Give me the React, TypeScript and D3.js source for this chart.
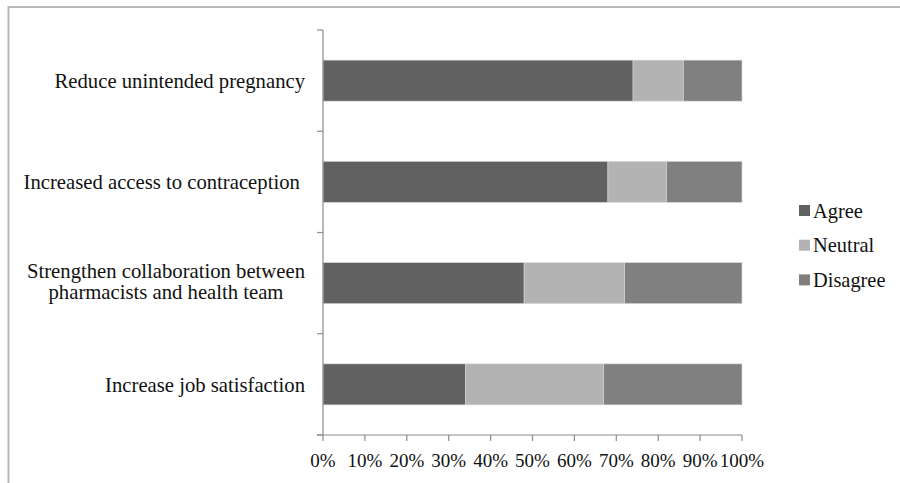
import React from "react";
import * as d3 from "d3";

const categories = [
  "Reduce unintended pregnancy",
  "Increased access to contraception ",
  "Strengthen collaboration between\npharmacists and health team",
  "Increase job satisfaction",
];
const agree = [74, 68, 48, 34];
const neutral = [12, 14, 24, 33];
const disagree = [14, 18, 28, 33];
const seriesNames = ["Agree", "Neutral", "Disagree"];
const seriesColors = ["#616161", "#b3b3b3", "#808080"];
const xTicks = [0, 10, 20, 30, 40, 50, 60, 70, 80, 90, 100];

const W = 900;
const H = 483;
const FONT = "Liberation Serif, DejaVu Serif, serif";

export default function App() {
  const x = d3.scaleLinear().domain([0, 100]).range([323, 742]);
  const y = d3
    .scaleBand<string>()
    .domain(categories)
    .range([30, 435])
    .paddingInner(0.595)
    .paddingOuter(0.2975);

  const rows = categories.map((c, i) => ({
    cat: c,
    values: [agree[i], neutral[i], disagree[i]],
  }));
  const stack = d3
    .stack<any>()
    .keys(["0", "1", "2"])
    .value((d: any, k: string) => d.values[+k]);
  const stacked = stack(rows as any);

  const step = y.step();
  const yTickPos = d3.range(categories.length + 1).map((i) => y.range()[0] + i * step);
  const base: React.CSSProperties = { fontFamily: FONT, fill: "#111" };

  return (
    <svg
      width={W}
      height={H}
      style={{ position: "absolute", left: 0, top: 0, background: "#fff" }}
    >
      <rect x={8.5} y={7} width={W} height={H} fill="#fff" stroke="#b8b8b8" strokeWidth={2} />
      {stacked.map((layer, si) => (
        <g key={si} fill={seriesColors[si]}>
          {layer.map((d: any, i: number) => (
            <rect
              key={i}
              x={x(d[0])}
              y={y(categories[i])!}
              width={x(d[1]) - x(d[0])}
              height={y.bandwidth()}
              stroke="#d8d8d8"
              strokeWidth={0.6}
            />
          ))}
        </g>
      ))}
      <line x1={323} x2={323} y1={y.range()[0]} y2={y.range()[1]} stroke="#8c8c8c" strokeWidth={1.2} />
      {yTickPos.map((p, i) => (
        <line key={i} x1={317} x2={323} y1={p} y2={p} stroke="#8c8c8c" strokeWidth={1.2} />
      ))}
      <line x1={x(0) - 6} x2={x(100)} y1={435} y2={435} stroke="#8c8c8c" strokeWidth={1.2} />
      {xTicks.map((t) => (
        <g key={t}>
          <line x1={x(t)} x2={x(t)} y1={435} y2={441} stroke="#8c8c8c" strokeWidth={1.2} />
          <text x={x(t)} y={460} dy="0.35em" textAnchor="middle" style={{ ...base, fontSize: 19 }}>
            {t}%
          </text>
        </g>
      ))}
      {categories.map((c, i) => {
        const lines = c.split("\n");
        const cy = y(c)! + y.bandwidth() / 2;
        if (lines.length === 1) {
          return (
            <text
              key={i}
              x={305}
              y={cy}
              dy="0.35em"
              textAnchor="end"
              style={{ ...base, fontSize: 20.7, whiteSpace: "pre" }}
            >
              {c}
            </text>
          );
        }
        const lh = 21;
        return (
          <text key={i} x={166} textAnchor="middle" style={{ ...base, fontSize: 20.7 }}>
            {lines.map((l, j) => (
              <tspan key={j} x={166} y={cy - 1.5 + (j - (lines.length - 1) / 2) * lh} dy="0.35em">
                {l}
              </tspan>
            ))}
          </text>
        );
      })}
      {seriesNames.map((n, i) => {
        const ly = 210.5 + i * 34.7;
        return (
          <g key={n}>
            <rect x={799} y={ly - 5.5} width={11} height={11} fill={seriesColors[i]} />
            <text x={813} y={ly} dy="0.35em" style={{ ...base, fontSize: 20.4 }}>
              {n}
            </text>
          </g>
        );
      })}
    </svg>
  );
}
